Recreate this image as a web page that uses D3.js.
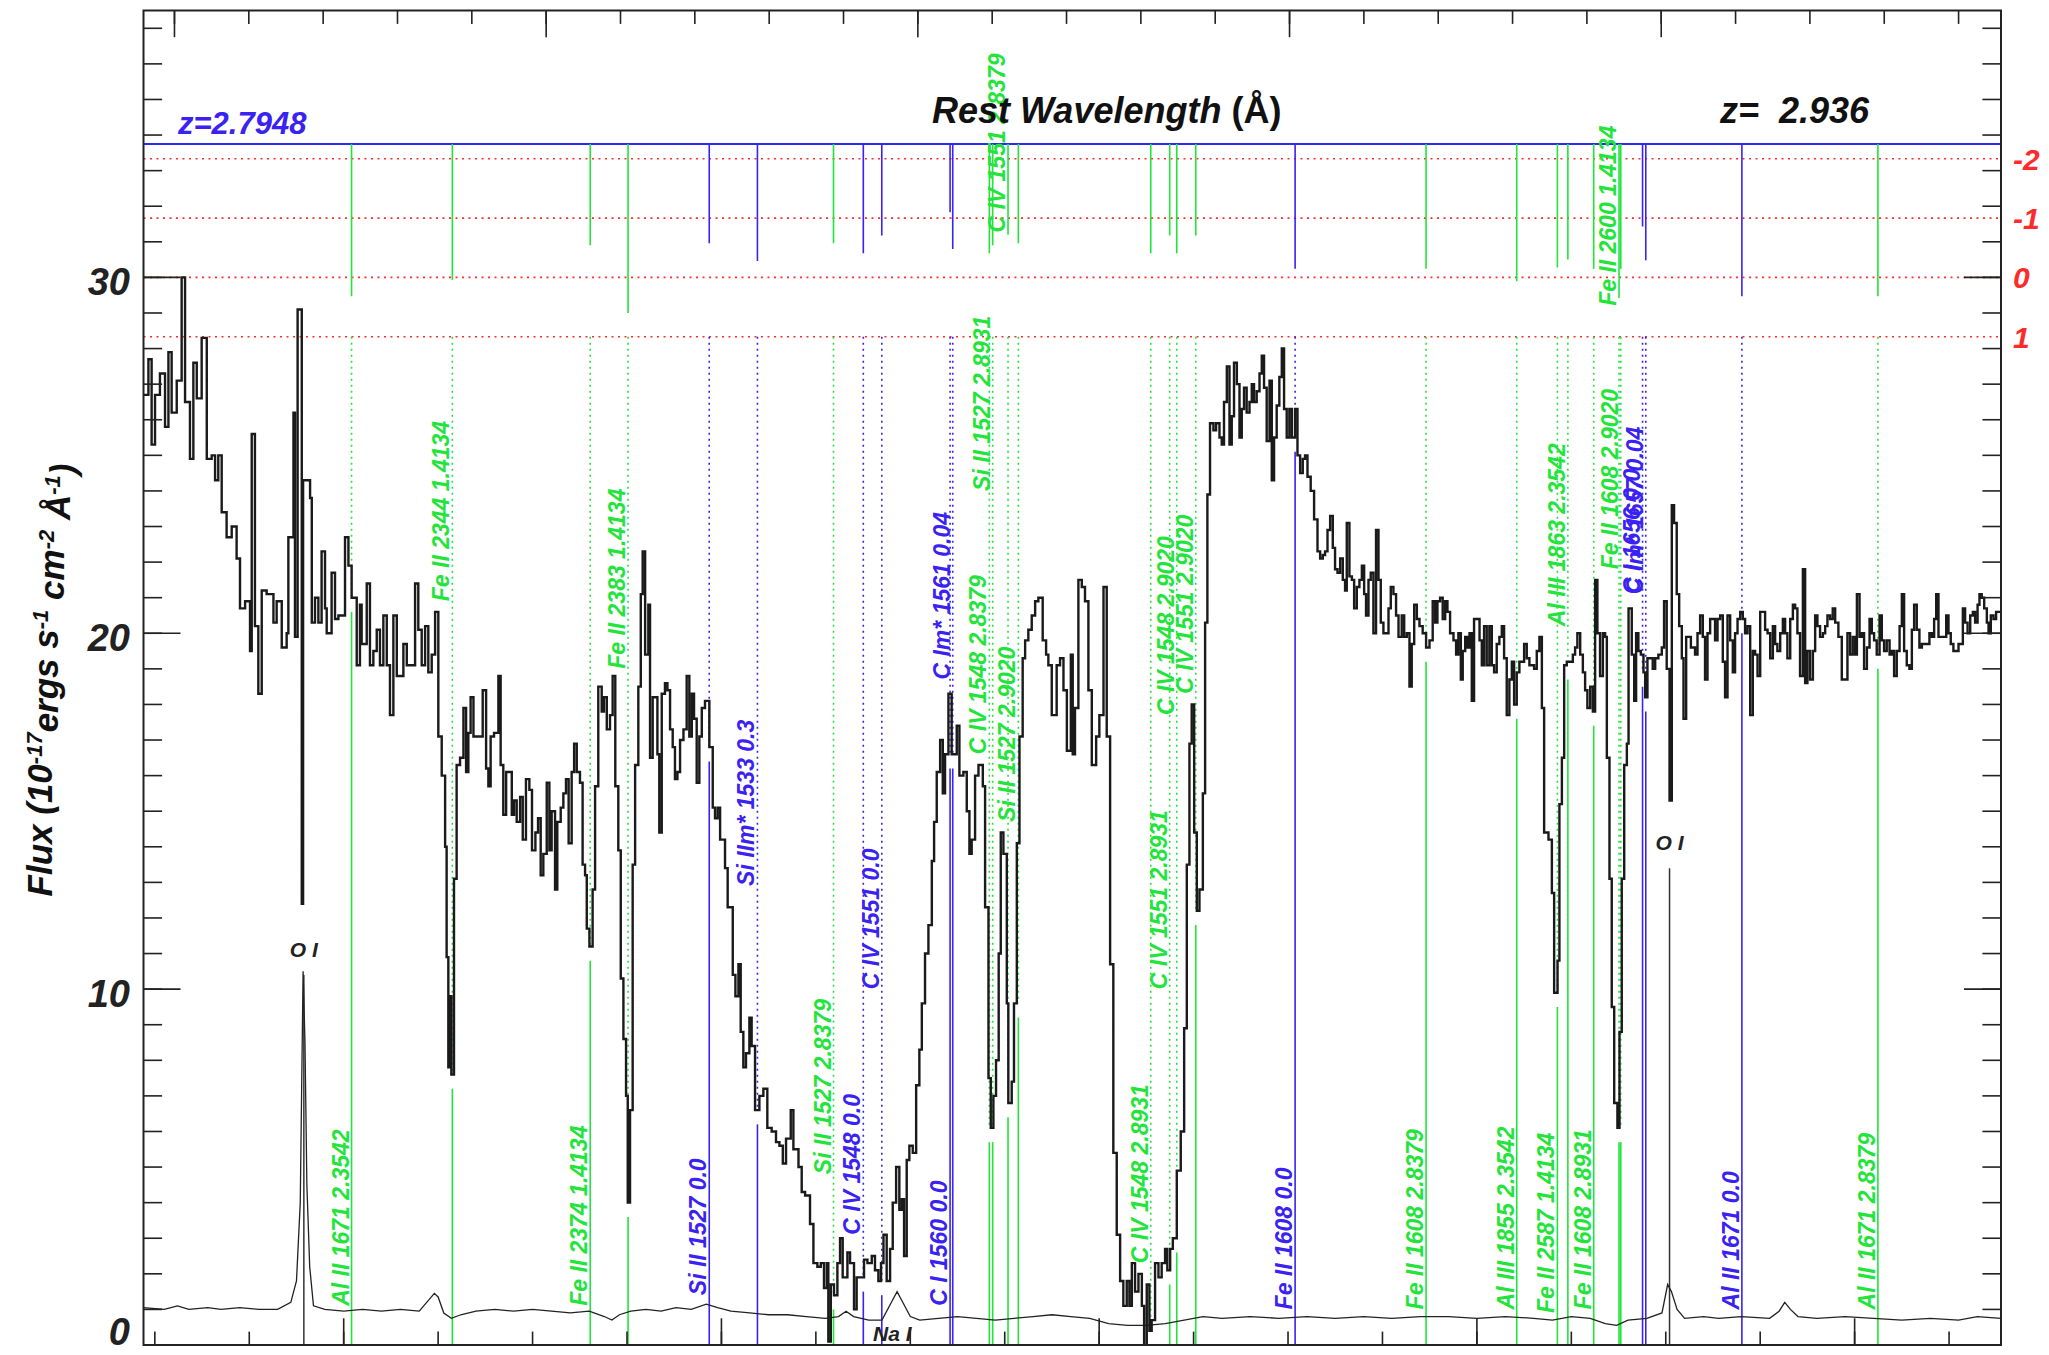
<!DOCTYPE html>
<html>
<head>
<meta charset="utf-8">
<script src="https://cdn.jsdelivr.net/npm/d3@7"></script>
<style>
  body { margin: 0; background: #fff; }
  text { font-family: "Liberation Sans", Arial, Helvetica, sans-serif; font-weight: bold; font-style: italic; }
</style>
</head>
<body>
<svg id="svg"></svg>
<script>
// ---- data ----
const zQSO = 2.936;
const zAbs = 2.7948;

// observed wavelength (A, left edge of each step) and flux (1e-17 erg/s/cm2/A)
const specWave = [5494.0,5496.6,5498.3,5500.1,5502.7,5505.4,5507.2,5508.9,5511.6,5514.2,5516.0,5518.6,5520.4,5522.2,5524.8,5527.5,5530.1,5531.9,5533.6,5535.4,5538.0,5540.7,5543.3,5545.1,5547.8,5550.4,5551.3,5553.0,5554.8,5556.6,5559.2,5562.8,5564.5,5567.2,5569.8,5570.7,5573.4,5574.2,5575.6,5577.8,5578.5,5582.2,5583.1,5584.8,5586.6,5588.3,5590.1,5591.0,5593.6,5595.4,5597.2,5600.7,5602.5,5604.2,5606.9,5608.6,5609.5,5612.2,5613.9,5615.7,5617.5,5619.2,5621.0,5622.8,5624.5,5626.3,5628.1,5631.6,5633.4,5637.8,5639.5,5641.3,5643.1,5644.8,5646.6,5648.4,5650.1,5651.9,5653.7,5654.5,5655.4,5656.3,5657.0,5658.4,
5659.8,5661.6,5663.4,5664.8,5666.0,5667.2,5668.7,5673.6,5675.4,5676.6,5677.8,5679.6,5681.9,5683.1,5684.5,5686.0,5689.0,5690.2,5691.6,5693.4,5694.8,5696.5,5698.3,5699.7,5701.5,5702.9,5704.3,5705.7,5707.5,5708.9,5710.1,5711.9,5713.1,5714.9,5716.3,5717.7,5719.1,5720.7,5722.0,5723.4,5725.1,5726.5,5727.8,5728.7,5730.1,5731.8,5733.1,5734.8,5736.6,5737.8,5739.3,5741.0,5742.4,5743.8,5745.4,5746.7,5748.1,5749.5,5750.4,5751.6,5753.0,5754.3,5756.0,5757.3,5758.3,5759.6,5761.3,5762.2,5763.6,5766.1,5767.1,5768.4,5770.1,5771.4,5772.8,5774.2,5775.4,5776.7,5778.1,5779.9,5781.6,5783.0,5784.3,5785.5,5786.9,5788.3,5789.6,5791.3,5793.6,5795.4,5796.6,5798.0,5799.3,5801.9,5803.3,5806.0,5807.4,5809.0,5810.2,5811.6,5813.0,5814.8,5816.0,5817.8,5820.1,
5822.2,5824.3,5826.6,5828.9,5830.7,5832.5,5834.2,5836.7,5838.1,5840.8,5842.5,5844.3,5846.9,5848.7,5850.8,5852.6,5854.3,5855.8,5856.6,5857.9,5859.6,5861.4,5862.8,5864.2,5866.7,5868.1,5870.2,5871.6,5875.5,5877.3,5879.6,5881.3,5883.1,5884.5,5885.8,5887.5,5889.3,5890.7,5892.5,5894.2,5895.5,5896.7,5898.1,5899.5,5901.3,5903.1,5904.8,5906.1,5907.8,5909.6,5911.4,5912.6,5914.0,5915.8,5917.2,5918.4,5920.2,5921.9,5924.6,5926.0,5928.1,5929.9,5931.3,5932.5,5934.3,5936.1,5938.4,5939.6,5941.4,5942.6,5944.0,5945.4,5946.8,5947.9,5949.3,5951.1,5951.9,5953.7,5954.9,5956.4,5957.8,5959.5,5960.8,5962.5,5964.3,5966.1,5967.8,5970.1,5971.9,5973.1,5974.9,5977.5,5979.3,5981.1,5982.9,5985.0,
5986.0,5987.2,5989.0,5990.8,5992.5,5994.3,5996.1,5998.4,6000.1,6002.3,6004.0,6005.8,6007.5,6009.3,6011.1,6012.8,6014.6,6016.0,6017.3,6019.0,6020.8,6022.6,6023.8,6025.2,6026.6,6027.8,6029.6,6031.4,6033.1,6034.9,6036.1,6037.6,6039.0,6041.1,6043.2,6045.0,6046.4,6047.8,6049.0,6050.3,6051.7,6053.1,6054.9,6056.1,6057.3,6058.7,6060.5,6061.9,6063.7,6064.9,6066.1,6067.6,6069.0,6070.2,6071.4,6072.9,6074.3,6075.5,6076.7,6078.1,6079.6,6080.8,6082.0,6083.4,6084.9,6086.1,6087.3,6088.7,6090.2,6091.4,6092.6,6094.0,6095.4,6096.7,6097.9,6099.3,6100.7,6102.0,6103.7,6105.0,6106.4,6107.8,6109.0,6110.3,6112.0,6113.8,6115.6,6117.0,6118.4,6119.6,6120.9,6122.3,6123.7,6124.9,6126.2,6127.6,6129.0,6130.2,6131.1,6132.5,6133.8,6135.0,6136.4,6137.8,6139.1,6140.3,6141.3,6142.6,6143.8,6145.2,6146.6,6147.9,6149.1,6150.5,
6153.2,6154.4,6155.8,6157.2,6158.5,6160.2,6161.5,6162.9,6164.3,6165.5,6166.8,6168.2,6169.6,6171.3,6173.1,6174.9,6176.6,6177.9,6179.1,6180.5,6181.9,6183.2,6184.4,6185.8,6187.6,6189.0,6190.2,6191.5,6192.5,6193.8,6195.0,6196.1,6197.3,6198.5,6201.4,6202.6,6203.8,6205.2,6206.6,6207.9,6209.1,6210.5,6211.9,6213.2,6214.4,6215.8,6217.2,6218.5,6219.7,6221.1,6222.5,6225.0,6226.4,6227.8,6230.3,6231.7,6233.1,6234.4,6235.6,6237.9,6239.7,6240.9,6242.7,6243.7,6245.0,6246.2,6247.6,6250.8,6252.0,6253.2,6254.7,6256.1,6257.3,6258.5,6260.0,6261.4,6262.6,6263.8,6265.2,6266.7,6267.9,6268.8,6270.2,6271.4,6272.7,6274.4,6275.5,6276.7,6278.0,6279.4,6280.3,6282.0,6283.3,6284.3,6285.5,6286.8,6288.2,6289.1,6290.3,6293.1,6294.4,6296.1,6297.9,6299.1,6300.5,6302.0,6303.2,6304.4,6305.8,6307.1,6308.5,6309.4,6310.8,6313.3,
6315.5,6316.8,6318.2,6319.6,6320.8,6322.1,6323.5,6326.1,6327.4,6328.8,6330.2,6331.4,6332.7,6334.1,6335.5,6336.7,6338.0,6339.4,6340.8,6342.0,6343.3,6344.7,6346.1,6347.3,6348.6,6350.0,6352.6,6353.9,6355.3,6356.7,6357.9,6359.1,6360.6,6362.0,6363.2,6364.4,6365.9,6367.3,6368.5,6369.7,6371.1,6372.6,6373.8,6375.0,6376.4,6377.9,6379.1,6380.3,6381.7,6383.2,6384.4,6385.6,6387.0,6388.4,6389.7,6391.4,6393.2,6396.2,6397.6,6399.0,6400.3,6401.2,6402.6,6403.8,6405.0,6406.5,6407.9,6409.1,6410.3,6411.7,6413.2,6414.4,6415.6,6417.0,6418.5,6419.7,6420.9,6422.3,6423.8,6425.0,6426.2,6427.6,6429.0,6430.3,6431.5,6432.9,6434.3,6435.6,6439.6,6440.9,6442.1,6443.2,6444.4,6448.5,6449.7,6450.9,6452.3,6455.0,6457.3,6458.5,6459.8,6461.2,6462.6,6463.8,6465.1,6466.1,6467.3,6468.6,6470.0,6470.9,6472.1,6473.5,6474.9,6477.5];
const specFlux = [26.7,27.7,25.3,26.7,27.3,25.8,27.9,26.2,27.1,30.0,26.5,24.9,27.6,26.6,28.3,24.9,25.0,24.3,25.0,23.4,22.7,23.0,22.1,20.7,20.9,19.5,25.6,20.2,18.3,21.2,21.1,20.3,20.9,19.6,20.0,22.7,26.2,19.9,29.1,12.4,24.3,23.8,20.3,21.0,20.3,22.3,20.7,20.0,21.7,20.4,20.5,22.7,21.9,21.0,19.1,20.8,19.7,21.4,19.1,19.5,20.1,19.1,20.5,19.1,17.7,20.5,18.8,19.7,19.1,21.4,20.1,19.1,20.2,18.9,19.4,20.6,17.1,16.0,14.0,10.9,7.8,9.8,7.6,13.1,
16.3,16.5,17.9,16.1,17.2,18.2,17.1,18.4,16.2,15.7,17.1,17.2,18.8,16.3,14.9,16.1,14.9,15.3,14.7,15.4,14.2,15.9,15.6,13.9,14.4,14.8,13.2,13.8,15.8,13.9,15.0,12.8,14.7,15.1,15.5,15.9,14.1,16.1,16.9,16.1,15.8,13.5,13.2,11.7,11.2,12.8,15.7,18.5,17.8,18.2,17.3,17.7,18.8,15.7,13.9,10.3,8.6,7.0,4.0,6.6,13.5,16.3,18.5,21.1,22.3,19.4,20.8,16.5,18.2,16.6,14.4,18.3,18.6,18.4,17.3,16.8,15.9,16.1,17.0,17.3,18.8,17.1,18.3,17.6,15.8,17.1,17.9,18.1,16.8,15.1,14.8,15.1,14.2,13.4,12.3,10.4,9.8,10.7,8.8,7.8,8.2,9.2,8.4,6.6,7.0,
7.2,6.1,6.0,5.7,5.6,5.1,5.8,6.6,5.5,5.0,4.3,4.2,3.4,2.3,2.2,2.3,1.6,2.3,0.1,1.7,1.4,2.3,3.0,1.9,2.6,2.3,1.0,1.9,2.4,2.3,2.5,2.1,1.8,2.3,3.1,1.8,2.7,4.0,5.0,3.8,4.1,2.5,5.2,5.6,5.4,7.3,8.3,9.6,11.0,11.8,13.6,14.7,16.1,17.0,15.5,16.6,18.3,16.6,17.4,16.0,16.1,15.0,13.8,14.2,16.0,16.3,15.7,12.3,7.5,6.1,7.0,8.0,11.0,14.4,13.8,9.6,6.8,7.4,9.6,14.1,17.1,19.3,19.8,20.1,20.5,20.9,21.0,19.8,19.4,19.1,17.7,19.1,19.3,18.4,16.7,19.4,
16.6,17.9,21.5,21.3,20.9,18.4,16.3,17.1,17.7,21.3,17.1,10.7,5.4,3.1,1.8,1.1,1.8,1.1,2.3,1.5,2.0,1.1,-0.1,1.7,0.4,0.7,2.3,1.9,2.3,2.7,2.1,2.7,3.0,4.9,6.0,8.9,13.5,16.9,18.0,14.4,12.2,12.8,15.5,20.3,23.9,25.9,25.7,25.9,25.5,25.3,26.5,27.5,25.3,26.1,27.6,27.0,25.5,26.3,26.9,26.2,26.5,27.0,26.5,26.8,27.3,27.8,26.9,25.4,27.1,24.3,25.5,26.4,27.2,28.0,26.3,25.5,26.3,25.5,26.3,25.0,24.5,24.9,25.0,24.4,24.0,23.2,22.3,22.1,22.2,22.3,22.9,23.3,22.4,21.8,21.7,22.1,21.5,21.2,23.1,21.6,21.5,20.7,21.3,21.5,21.9,21.1,20.5,21.5,21.7,20.0,22.9,21.5,20.3,20.0,
20.7,21.3,21.1,20.5,19.9,20.5,19.9,20.0,18.5,19.7,20.8,20.4,20.2,20.0,19.6,19.8,20.9,20.3,20.9,21.0,20.4,20.9,20.6,20.0,19.8,19.4,20.0,18.7,19.5,19.9,19.6,20.0,18.1,20.4,19.8,19.1,20.2,19.1,20.2,19.1,18.9,19.7,19.9,20.2,19.3,17.7,18.7,19.2,18.0,18.9,19.2,19.7,19.3,19.1,19.0,19.5,19.9,17.9,14.4,14.2,12.7,9.9,10.8,15.2,16.5,19.1,19.2,19.4,19.6,20.0,19.4,18.9,18.4,17.9,18.5,17.8,21.5,20.0,18.8,20.0,19.9,16.5,13.1,9.5,6.8,6.1,8.8,13.1,16.3,16.9,20.7,19.4,18.1,20.0,19.5,19.4,18.9,18.2,19.3,19.0,19.3,19.4,19.6,20.9,19.0,15.3,23.6,23.1,21.1,20.2,19.3,17.6,19.9,19.6,
19.4,20.0,20.5,19.9,18.7,20.0,20.4,19.8,20.4,20.5,19.2,18.2,20.5,19.8,18.9,20.0,20.4,20.6,20.4,20.0,20.2,17.7,19.5,19.4,18.8,20.6,20.1,20.0,19.3,20.2,19.7,19.5,20.0,20.4,20.0,19.3,20.4,20.8,20.7,20.0,18.8,21.8,18.6,19.5,18.7,19.5,20.5,20.2,19.9,20.0,20.2,20.5,20.4,20.7,20.3,19.9,18.7,20.0,19.4,19.9,19.4,21.1,19.9,20.0,19.0,19.6,20.4,20.0,19.8,19.4,20.5,19.8,19.5,19.8,19.4,19.5,18.8,19.5,20.2,21.1,19.5,19.1,19.0,20.1,20.8,20.1,19.6,19.7,20.0,19.9,20.4,21.1,19.9,20.5,20.0,19.7,19.5,19.7,20.7,20.3,20.0,20.5,20.6,20.3,20.8,21.1,21.0,20.7,20.3,20.0,20.5,20.4,20.6,20.6];

// error spectrum
const errWave = [5494,5505,5512,5518,5528,5535,5545,5555,5565,5572,5575,5577,5578.5,5579.5,5580.5,5582,5584,5590,5600,5610,5620,5630,5640,5648,5650,5653,5657,5662,5670,5680,5690,5700,5710,5720,5730,5738,5742,5746,5752,5760,5768,5776,5784,5792,5798,5805,5815,5825,5835,5845,5855,5862,5866,5870,5878,5885,5890,5893,5896,5900,5905,5915,5925,5935,5945,5955,5965,5975,5985,5995,6005,6015,6025,6035,6045,6055,6065,6080,6095,6110,6125,6140,6155,6170,6185,6200,6215,6230,6240,6250,6260,6268,6274,6280,6290,6298,6301,6303,6306,6310,6320,6328,6340,6355,6360,6363,6366,6370,6380,6395,6410,6425,6440,6455,6465,6477.5];
const errFlux = [1.05,1.0,1.1,1.0,1.05,1.0,1.05,1.0,1.0,1.2,1.8,4.0,10.5,8.5,4.5,2.2,1.1,1.0,0.95,1.0,0.95,1.0,0.95,1.45,1.35,0.9,0.75,0.85,0.95,1.0,0.95,1.0,0.95,0.9,0.95,0.8,0.7,0.85,0.95,1.0,0.95,1.05,1.0,1.15,1.05,0.95,0.9,0.85,0.85,0.8,0.75,0.8,0.95,0.8,0.7,0.7,1.2,1.5,1.2,0.8,0.7,0.75,0.8,0.75,0.7,0.75,0.8,0.85,0.8,0.75,0.6,0.55,0.55,0.6,0.7,0.8,0.75,0.8,0.75,0.8,0.75,0.8,0.75,0.8,0.8,0.75,0.8,0.75,0.7,0.8,0.75,0.6,0.55,0.7,0.75,0.9,1.7,1.5,1.0,0.75,0.8,0.75,0.8,0.75,0.95,1.2,1.0,0.8,0.75,0.8,0.75,0.7,0.75,0.7,0.8,0.75];

// absorption line identifications
const lineNames = ["Al II 1671 2.3542","Fe II 2344 1.4134","Fe II 2374 1.4134","Fe II 2383 1.4134","Si II 1527 0.0","Si IIm* 1533 0.3","Si II 1527 2.8379","C IV 1548 0.0","C IV 1551 0.0","C I 1560 0.0","C Im* 1561 0.04","C IV 1548 2.8379","Si II 1527 2.8931","C IV 1551 2.8379","Si II 1527 2.9020","C IV 1548 2.8931","C IV 1551 2.8931","C IV 1548 2.9020","C IV 1551 2.9020","Fe II 1608 0.0","Fe II 1608 2.8379","Al III 1855 2.3542","Fe II 2587 1.4134","Al III 1863 2.3542","Fe II 1608 2.8931","Fe II 2600 1.4134","Fe II 1608 2.9020","C I 1656 0.0","C Im* 1657 0.04","Al II 1671 0.0","Al II 1671 2.8379"];
const lineRest = [1670.789,2344.214,2374.461,2382.765,1526.707,1533.431,1526.707,1548.204,1550.781,1560.309,1560.682,1548.204,1526.707,1550.781,1526.707,1548.204,1550.781,1548.204,1550.781,1608.451,1608.451,1854.718,2586.650,1862.790,1608.451,2600.173,1608.451,1656.928,1657.379,1670.789,1670.789];
const lineZ = [2.3542,1.4134,1.4134,1.4134,2.7948,2.7948,2.8379,2.7948,2.7948,2.7948,2.7948,2.8379,2.8931,2.8379,2.9020,2.8931,2.8931,2.9020,2.9020,2.7948,2.8379,2.3542,1.4134,2.3542,2.8931,1.4134,2.9020,2.7948,2.7948,2.7948,2.8379];
// flux level where the top marker ends
const lineTop = [29.47,29.93,30.9,29.0,30.96,30.46,30.96,30.68,31.18,31.83,30.8,30.68,30.9,31.2,30.96,30.68,31.18,30.68,31.18,30.24,30.24,29.89,30.28,30.5,30.24,29.42,30.24,31.43,30.48,29.47,29.47];
// flux level where each label begins
const lineLabelAt = [1.1,20.9,1.1,19.0,1.4,12.9,4.8,3.1,10.0,1.1,18.7,16.6,24.0,31.26,14.7,2.3,10.0,17.7,18.3,1.0,1.0,1.0,0.9,20.2,1.0,29.2,21.8,21.1,21.1,1.0,1.0];

// night sky lines
const skyNames = ["O I", "Na I", "O I"];
const skyWave = [5578.9, 5890.5, 6302.0];
const skyLabelAt = [11.1, 0.3, 14.1];

// significance levels on the right
const sigmaLevels = [-2, -1, 0, 1];
const zLineFlux = 33.75;

const yMajor = [0, 10, 20, 30];
const yMinor = d3.range(0, 38, 1);
const restMajor = [1400, 1450, 1500, 1550, 1600];
const restMinor = d3.range(1400, 1650, 10);
const obsMajor = [5600, 5800, 6000, 6200, 6400];
const obsMinor = d3.range(5500, 6500, 50);

// ---- drawing ----
const W = 2049, H = 1355;
const L = 143.5, R = 2001, T = 10.5, B = 1345;
const blue = "#3a22f2", green = "#22e43a", red = "#ff2a2a";

const svg = d3.select("#svg").attr("width", W).attr("height", H);

const x = d3.scaleLinear().domain([5494, 6477.5]).range([L, R]);
const xRest = d3.scaleLinear().domain([5494 / (1 + zQSO), 6477.5 / (1 + zQSO)]).range([L, R]);
const y = d3.scaleLinear().domain([0, 37.5]).range([B, T]);
const sig = d3.scaleLinear().domain([0, 1]).range([30, 30 - 5 / 3]);

svg.append("defs").append("clipPath").attr("id", "plot")
  .append("rect").attr("x", L).attr("y", T).attr("width", R - L).attr("height", B - T);

const spec = specWave.map((w, i) => [w, specFlux[i]]);
const err = errWave.map((w, i) => [w, errFlux[i]]);

function fluxAt(w) {
  // lowest flux within +-1.2 A of the line
  let m = Infinity;
  for (let i = 0; i < spec.length; i++) {
    const w0 = spec[i][0], w1 = i + 1 < spec.length ? spec[i + 1][0] : w0 + 1.5;
    if (w1 >= w - 1.2 && w0 <= w + 1.2) m = Math.min(m, spec[i][1]);
  }
  return m;
}

const lines = lineNames.map((n, i) => {
  const obs = lineRest[i] * (1 + lineZ[i]);
  return { name: n, obs: obs, z: lineZ[i], top: lineTop[i], lab: lineLabelAt[i],
           color: lineZ[i] === zAbs ? blue : green, local: fluxAt(obs) };
});

const plot = svg.append("g").attr("clip-path", "url(#plot)");

// red sigma levels
plot.selectAll("line.sig").data(sigmaLevels).join("line")
  .attr("x1", L).attr("x2", R)
  .attr("y1", d => y(sig(d))).attr("y2", d => y(sig(d)))
  .attr("stroke", red).attr("stroke-width", 1.6).attr("stroke-dasharray", "2,4.5");

// blue redshift bar
plot.append("line").attr("x1", L).attr("x2", R)
  .attr("y1", y(zLineFlux)).attr("y2", y(zLineFlux))
  .attr("stroke", "#2a2af5").attr("stroke-width", 2);

// line markers
const lg = plot.selectAll("g.ln").data(lines).join("g").attr("class", "ln");
lg.append("line")
  .attr("x1", d => x(d.obs)).attr("x2", d => x(d.obs))
  .attr("y1", y(zLineFlux)).attr("y2", d => y(d.top))
  .attr("stroke", d => d.color).attr("stroke-width", 1.6);
lg.filter(d => d.local < sig(1)).append("line")
  .attr("x1", d => x(d.obs)).attr("x2", d => x(d.obs))
  .attr("y1", y(sig(1))).attr("y2", d => y(d.local))
  .attr("stroke", d => d.color).attr("stroke-width", 1.6).attr("stroke-dasharray", "2,4");
lg.filter(d => d.local - 0.4 > 0).append("line")
  .attr("x1", d => x(d.obs)).attr("x2", d => x(d.obs))
  .attr("y1", d => y(d.local - 0.4)).attr("y2", B)
  .attr("stroke", d => d.color).attr("stroke-width", 1.6);

// sky line markers
const sky = skyNames.map((n, i) => ({ name: n, w: skyWave[i], lab: skyLabelAt[i] }));
plot.selectAll("line.sky").data(sky.filter(d => d.lab > 1)).join("line")
  .attr("x1", d => x(d.w)).attr("x2", d => x(d.w))
  .attr("y1", d => y(d.lab - 0.7)).attr("y2", B)
  .attr("stroke", "#333").attr("stroke-width", 1.5);

// spectra
plot.append("path").datum(err)
  .attr("d", d3.line().x(d => x(d[0])).y(d => y(d[1])))
  .attr("fill", "none").attr("stroke", "#222").attr("stroke-width", 1.3);
plot.append("path").datum(spec)
  .attr("d", d3.line().x(d => x(d[0])).y(d => y(d[1])).curve(d3.curveStepAfter))
  .attr("fill", "none").attr("stroke", "#1a1a1a").attr("stroke-width", 2.4);

// line labels
svg.selectAll("text.lab").data(lines).join("text")
  .attr("transform", d => `translate(${x(d.obs) - 3},${y(d.lab)}) rotate(-90)`)
  .attr("fill", d => d.color).style("font-size", "23px")
  .text(d => d.name);

svg.selectAll("text.sky").data(sky).join("text")
  .attr("x", d => x(d.w)).attr("y", d => y(d.lab) + 7)
  .attr("text-anchor", "middle").attr("fill", "#222").style("font-size", "21px")
  .text(d => d.name);

// frame and ticks
const ax = svg.append("g").attr("stroke", "#222");
function ticks(vals, scale, len, side) {
  ax.selectAll(null).data(vals.filter(v => scale(v) >= Math.min(...scale.range()) && scale(v) <= Math.max(...scale.range()))).join("line")
    .attr("x1", d => side === "top" || side === "bottom" ? scale(d) : (side === "left" ? L : R))
    .attr("x2", d => side === "top" || side === "bottom" ? scale(d) : (side === "left" ? L + len : R - len))
    .attr("y1", d => side === "top" ? T : side === "bottom" ? B : scale(d))
    .attr("y2", d => side === "top" ? T + len : side === "bottom" ? B - len : scale(d))
    .attr("stroke-width", 1.6);
}
ticks(restMinor, xRest, 13.4, "top");
ticks(restMajor, xRest, 26.7, "top");
ticks(obsMinor, x, 13.4, "bottom");
ticks(obsMajor, x, 26.7, "bottom");
ticks(yMinor, y, 18.6, "left");
ticks(yMajor, y, 37, "left");
ticks(yMinor, y, 18.6, "right");
ticks(yMajor, y, 37, "right");
svg.append("rect").attr("x", L).attr("y", T).attr("width", R - L).attr("height", B - T)
  .attr("fill", "none").attr("stroke", "#222").attr("stroke-width", 2);

// y tick labels
svg.selectAll("text.yt").data(yMajor).join("text")
  .attr("x", 130).attr("y", d => Math.min(y(d) + 18, B))
  .attr("text-anchor", "end").attr("fill", "#222").style("font-size", "38px")
  .text(d => d);

// sigma labels
svg.selectAll("text.sg").data(sigmaLevels).join("text")
  .attr("x", 2013).attr("y", d => y(sig(d)) + 11)
  .attr("fill", red).style("font-size", "30px")
  .text(d => d);

// titles
svg.append("text").attr("x", 178).attr("y", 134).attr("fill", blue)
  .style("font-size", "31px").text("z=" + zAbs);
svg.append("text").attr("x", 932).attr("y", 123).attr("fill", "#111")
  .style("font-size", "36px")
  .call(t => { t.append("tspan").text("Rest Wavelength "); t.append("tspan").style("font-style", "normal").text("(Å)"); });
svg.append("text").attr("x", 1720).attr("y", 123).attr("fill", "#111")
  .style("font-size", "36px").style("white-space", "pre").text("z=  " + zQSO);

// y axis title
const yt = svg.append("text").attr("transform", "translate(52,680) rotate(-90)")
  .attr("text-anchor", "middle").attr("fill", "#111").style("font-size", "35px");
[["Flux (10", 0], ["-17", 1], ["ergs s", 0], ["-1", 1], [" cm", 0], ["-2", 1], [" Å", 0], ["-1", 1], [")", 0]]
  .forEach(([s, sup]) => {
    yt.append("tspan").attr("dy", sup ? "-0.45em" : (s === "Flux (10" ? "0" : "0.45em"))
      .style("font-size", sup ? "22px" : "35px").text(s);
  });
</script>
</body>
</html>
